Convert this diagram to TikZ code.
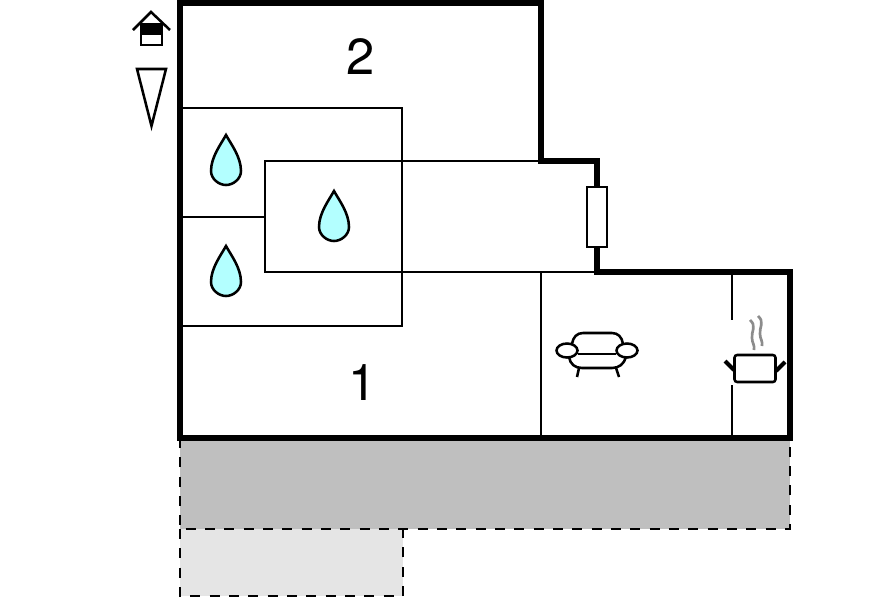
\documentclass[tikz,border=0pt]{standalone}
\usepackage{fontspec}
\setmainfont{TeX Gyre Heros}

\tikzset{
    wall/.style={black, line width=3.8pt, line join=miter},
    partition/.style={black, line width=1.9pt},
    terrace/.style={black, line width=2.1pt, dash pattern=on 7.5pt off 7pt},
    roomnumber/.style={font=\fontsize{38}{38}\selectfont, inner sep=0pt},
    waterdrop/.pic={
        \draw[partition, fill=dropblue] (0,0) .. controls (5,9) and (15,22) .. (15,36)
            .. controls (15,44) and (7,50) .. (0,50)
            .. controls (-7,50) and (-15,44) .. (-15,36)
            .. controls (-15,22) and (-5,9) .. (0,0) -- cycle;
    }
}
\definecolor{dropblue}{HTML}{B3FFFF}
\definecolor{terracedark}{HTML}{BFBFBF}
\definecolor{terracelight}{HTML}{E5E5E5}
\definecolor{steamgray}{HTML}{8C8C8C}

\begin{document}
\begin{tikzpicture}[x=0.75pt, y=-0.75pt]
            \useasboundingbox (0,0) rectangle (896,597);

            % terraces
            \fill[terracedark] (180,438) rectangle (790,529);
            \fill[terracelight] (180,529) rectangle (403,596);
            \draw[terrace] (180,438) -- (180,529) -- (790,529) -- (790,438);
            \draw[terrace] (180,529) -- (180,596) -- (403,596) -- (403,529);

            % inner walls
            \draw[partition] (180,108) -- (402,108) -- (402,326) -- (180,326);
            \draw[partition] (180,217) -- (265,217);
            \draw[partition] (597,161) -- (265,161) -- (265,272) -- (597,272);
            \draw[partition] (541,272) -- (541,438);
            \draw[partition] (732,272) -- (732,320);
            \draw[partition] (732,385) -- (732,438);

            % outer walls
            \draw[wall] (180,3) -- (541,3) -- (541,161) -- (597,161) -- (597,272)
                -- (790,272) -- (790,438) -- (180,438) -- cycle;
            \draw[partition, fill=white] (587,187) rectangle (607,247);

            % drops
            \pic at (226,135) {waterdrop};
            \pic at (334,191) {waterdrop};
            \pic at (226,246) {waterdrop};

            % sofa
            \draw[partition] (572,344) .. controls (573,337) and (577,333) .. (583,333) -- (612,333)
                .. controls (618,333) and (622,337) .. (623,344);
            \draw[partition] (578,354) -- (616,354);
            \draw[partition] (569,357) .. controls (570,364) and (575,368) .. (582,368) -- (612,368)
                .. controls (619,368) and (624,364) .. (626,357);
            \draw[partition] (579,368) -- (577,377);
            \draw[partition] (616,368) -- (619,377);
            \draw[partition, fill=white] (567,350.5) ellipse (10.5 and 7);
            \draw[partition, fill=white] (627,350.5) ellipse (10.5 and 7);

            % pot
            \draw[partition, rounded corners=2pt] (734.5,355) -- (734.5,382) -- (775.5,382) -- (775.5,355) -- cycle;
            \draw[wall, line width=3pt] (725,361) -- (734,370);
            \draw[wall, line width=3pt] (785,362) -- (776,371);
            \draw[steamgray, line width=2pt] (750,320) .. controls (757,326) and (751,332) .. (752,338)
                .. controls (752,343) and (755,345) .. (754,350);
            \draw[steamgray, line width=2pt] (758,316) .. controls (765,322) and (759,328) .. (760,334)
                .. controls (760,339) and (763,341) .. (762,346);

            % house and north mark
            \draw[partition] (133,30) -- (151,12) -- (170,30);
            \draw[partition, fill=white] (141,24) rectangle (162,45);
            \fill[black] (141,24) rectangle (162,35);
            \draw[partition, line join=miter] (137,69) -- (166,69) -- (151.5,126) -- cycle;

            \node[roomnumber] (roomtwo) at (361,56.5) {2};
            \node[roomnumber] (roomone) at (362.5,382.5) {1};
\end{tikzpicture}
\end{document}
